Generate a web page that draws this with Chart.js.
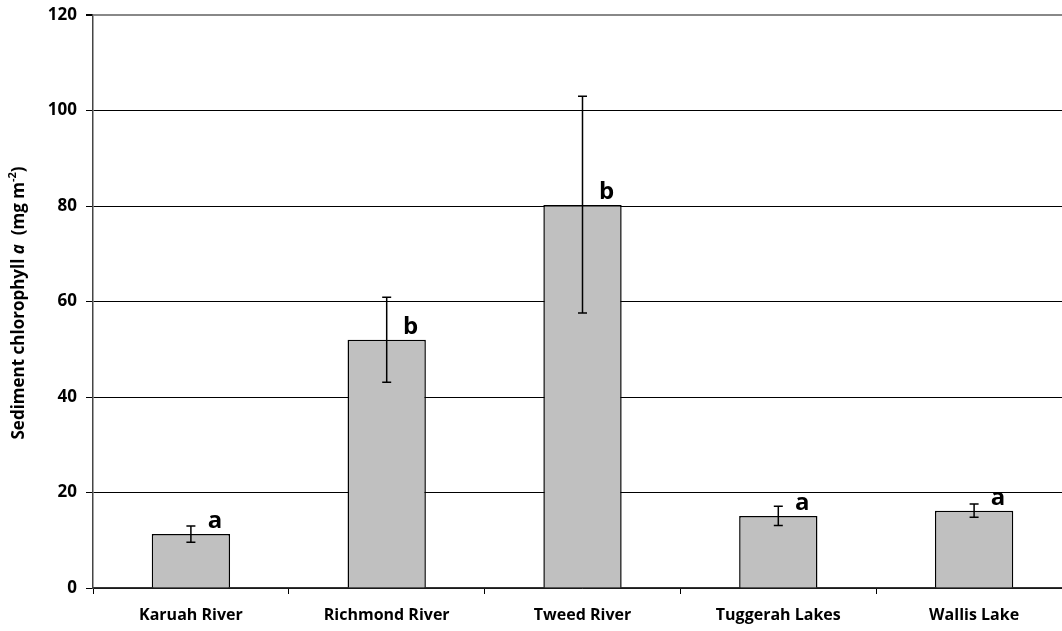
<!DOCTYPE html>
<html>
<head>
<meta charset="utf-8">
<script src="https://cdn.jsdelivr.net/npm/chart.js@4.4.0/dist/chart.umd.min.js"></script>
<style>
  html, body { margin: 0; padding: 0; background: #fff; overflow: hidden; }
</style>
</head>
<body>
<canvas id="myChart" width="1072" height="631"></canvas>
<script>
var siteLabels = ['Karuah River', 'Richmond River', 'Tweed River', 'Tuggerah Lakes', 'Wallis Lake'];
var chlValues = [11.3, 52.0, 80.2, 15.1, 16.2];
var errLow = [9.6, 43.1, 57.6, 13.1, 14.8];
var errHigh = [13.0, 60.9, 103.0, 17.1, 17.6];
var groupLetters = ['a', 'b', 'b', 'a', 'a'];
var yTicks = [0, 20, 40, 60, 80, 100, 120];

var FONT = '"Open Sans", Lato, sans-serif';

// error bars + significance letters
const errorBars = {
	id: 'errorBars',
	afterDatasetsDraw(chart) {
		const ctx = chart.ctx;
		const meta = chart.getDatasetMeta(0);
		const y = chart.scales.y;
		ctx.save();
		ctx.strokeStyle = '#000';
		ctx.lineWidth = 1.5;
		for (let i = 0; i < meta.data.length; i++) {
			let x = meta.data[i].x;
			let yh = y.getPixelForValue(errHigh[i]);
			let yl = y.getPixelForValue(errLow[i]);
			ctx.beginPath();
			ctx.moveTo(x, yh); ctx.lineTo(x, yl);
			ctx.moveTo(x - 4.5, yh); ctx.lineTo(x + 4.5, yh);
			ctx.moveTo(x - 4.5, yl); ctx.lineTo(x + 4.5, yl);
			ctx.stroke();

			ctx.fillStyle = '#000';
			ctx.font = 'bold 24px ' + FONT;
			ctx.textAlign = 'center';
			ctx.textBaseline = 'alphabetic';
			ctx.fillText(groupLetters[i], x + 24, meta.data[i].y - 6);
		}
		ctx.restore();
	}
};

// rotated axis title with italic a and superscript
const yTitle = {
	id: 'yTitle',
	afterDraw(chart) {
		const ctx = chart.ctx;
		const parts = [
			{ t: 'Sediment chlorophyll ', f: 'bold 17px ' + FONT, dy: 0 },
			{ t: 'a', f: 'italic bold 17px ' + FONT, dy: 0 },
			{ t: '  (mg m', f: 'bold 17px ' + FONT, dy: 0 },
			{ t: '-2', f: 'bold 11px ' + FONT, dy: -8 },
			{ t: ')', f: 'bold 17px ' + FONT, dy: 0 }
		];
		let total = 0;
		parts.forEach(p => { ctx.font = p.f; p.w = ctx.measureText(p.t).width; total += p.w; });
		ctx.save();
		ctx.translate(24, 303);
		ctx.rotate(-Math.PI / 2);
		ctx.fillStyle = '#000';
		ctx.textBaseline = 'alphabetic';
		ctx.textAlign = 'left';
		let cx = -total / 2;
		parts.forEach(p => {
			ctx.font = p.f;
			ctx.fillText(p.t, cx, p.dy);
			cx += p.w;
		});
		ctx.restore();
	}
};

const cdata = {
	labels: siteLabels,
	datasets: [{
		label: 'Sediment chlorophyll a',
		data: chlValues,
		backgroundColor: '#c0c0c0',
		borderColor: '#000',
		borderWidth: 1.5,
		barPercentage: 0.4,
		categoryPercentage: 1.0
	}]
};

const cconfig = {
	type: 'bar',
	data: cdata,
	options: {
		responsive: false,
		animation: false,
		layout: { padding: { top: 0, right: 0, left: 0, bottom: 0 } },
		plugins: {
			legend: { display: false },
			tooltip: { enabled: false }
		},
		scales: {
			x: {
				afterFit(scale) { scale.height = 43; },
				grid: {
					offset: true,
					drawOnChartArea: false,
					color: '#000',
					tickLength: 6,
					tickColor: '#000'
				},
				border: { color: '#333', width: 1.5 },
				ticks: {
					color: '#000',
					font: { family: FONT, size: 16, weight: 'bold' },
					padding: 12
				}
			},
			y: {
				min: 0,
				max: 120,
				afterFit(scale) { scale.width = 93; scale.paddingTop = 15; },
				afterBuildTicks(scale) { scale.ticks = yTicks.map(v => ({ value: v })); },
				grid: {
					color: ctx => ctx.tick && ctx.tick.value === 120 ? '#888' : '#000',
					lineWidth: ctx => ctx.tick && ctx.tick.value === 120 ? 2 : 1,
					tickLength: 7,
					tickColor: '#000'
				},
				border: { color: '#444', width: 1.5 },
				ticks: {
					color: '#000',
					font: { family: FONT, size: 17, weight: 'bold' },
					padding: 9
				}
			}
		}
	},
	plugins: [errorBars, yTitle]
};

const chlChart = new Chart(
	document.getElementById('myChart').getContext('2d'),
	cconfig
);
</script>
</body>
</html>
